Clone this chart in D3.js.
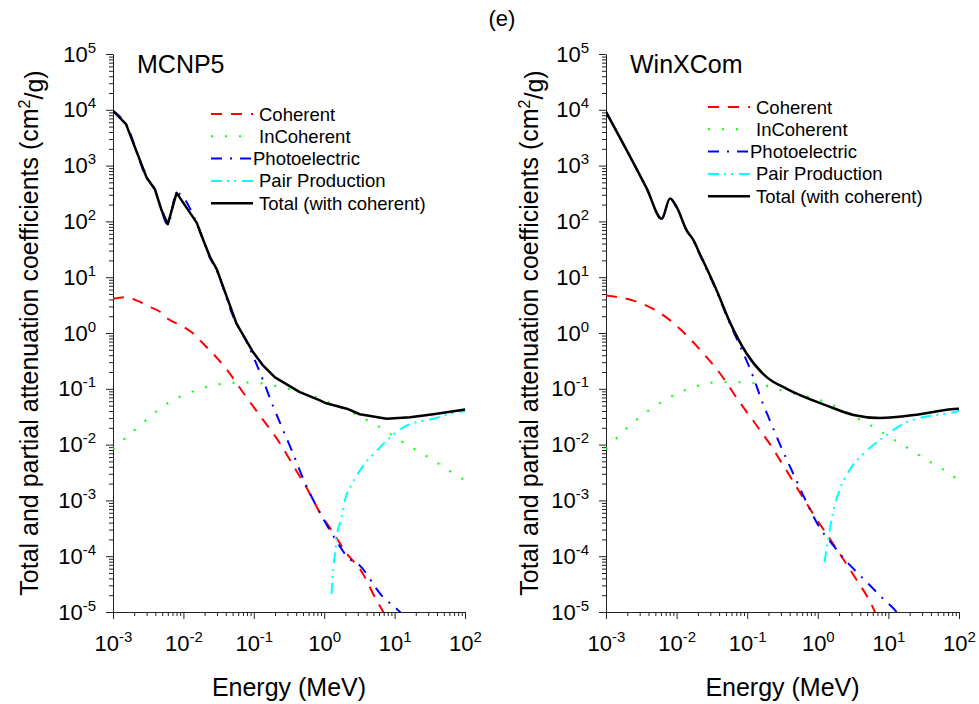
<!DOCTYPE html>
<html>
<head>
<meta charset="utf-8">
<script src="https://cdn.jsdelivr.net/npm/d3@7"></script>
<style>
  body { margin: 0; background: #fff; }
  svg { display: block; font-family: "Liberation Sans", Arial, sans-serif; }
</style>
</head>
<body>
<svg id="chart" width="979" height="704"></svg>
<script>
// tick labels (powers of ten)
const xTickExponents = [-3, -2, -1, 0, 1, 2]
const yTickExponents = [-5, -4, -3, -2, -1, 0, 1, 2, 3, 4, 5]

const seriesNames = ['Coherent', 'InCoherent', 'Photoelectric', 'Pair Production', 'Total (with coherent)']

// MCNP5 panel, [energy MeV, cm2/g]
const mcnpCoherent = [[1e-3, 4.1], [1.5e-3, 4.4], [2.2e-3, 3.8], [3.2e-3, 3.0], [4.66e-3, 2.4], [6e-3, 1.8],
    [1e-2, 1.3], [1.31e-2, 1.03], [2.14e-2, 0.556], [2.66e-2, 0.42], [3.9e-2, 0.243], [7.9e-2, 0.070],
    [0.144, 0.025], [0.236, 0.0105], [0.363, 4.2e-3], [0.56, 1.7e-3], [0.87, 6e-4], [1.35, 2.6e-4],
    [1.97, 1.24e-4], [3.6, 4.7e-5], [5.3, 1.8e-5], [6.9, 1e-5], [8, 7e-6]]
const mcnpIncoherent = [[1e-3, 8.3e-3], [2.4e-3, 0.022], [5.8e-3, 0.054], [1.38e-2, 0.090], [3.5e-2, 0.123],
    [8.8e-2, 0.13], [0.223, 0.11], [0.56, 0.081], [2.1, 0.041], [5.0, 0.024], [12.6, 0.0114],
    [31.8, 5.7e-3], [80, 2.7e-3], [100, 2.3e-3]]
const mcnpPhoto = [[1e-3, 9590], [1.53e-3, 5530], [3e-3, 605], [3.95e-3, 368], [4.9e-3, 155], [6e-3, 87],
    [8e-3, 322], [1.55e-2, 92], [1.92e-2, 45], [2.39e-2, 22], [2.97e-2, 13.3], [5e-2, 2.1], [7.9e-2, 0.70],
    [0.136, 0.14], [0.19, 0.047], [0.263, 0.0178], [0.363, 6.8e-3], [0.53, 2.1e-3], [0.82, 6.9e-4],
    [1.35, 2.3e-4], [2.3, 8.9e-5], [3.05, 7.2e-5], [6.5, 2.0e-5], [11.9, 1e-5], [14, 8e-6]]
const mcnpPair = [[1.27, 2.1e-5], [1.35, 6.3e-5], [1.42, 1.08e-4], [1.53, 2.5e-4], [1.77, 4.9e-4], [1.97, 1e-3],
    [2.45, 1.9e-3], [3.6, 4.2e-3], [5.6, 7.8e-3], [7.7, 0.0118], [14.8, 0.0218], [35.5, 0.029],
    [76, 0.038], [100, 0.040]]
const mcnpTotal = [[1e-3, 9600], [1.53e-3, 5540], [3e-3, 611], [3.95e-3, 372], [4.9e-3, 158], [6e-3, 89],
    [8e-3, 325], [1.55e-2, 94], [1.92e-2, 46], [2.39e-2, 23], [2.97e-2, 14], [5.7e-2, 1.46], [9.8e-2, 0.45],
    [0.136, 0.26], [0.2, 0.16], [0.45, 0.087], [0.87, 0.062], [1.07, 0.055], [2.1, 0.044], [3.2, 0.035],
    [7.7, 0.029], [16.6, 0.031], [35.5, 0.035], [95, 0.042], [100, 0.043]]

// WinXCom panel
const wxCoherent = [[1e-3, 4.7], [2.44e-3, 3.8], [5.2e-3, 2.5], [1.18e-2, 1.11], [2.39e-2, 0.43], [4.1e-2, 0.19],
    [7.5e-2, 0.062], [0.136, 0.022], [0.21, 0.0102], [0.33, 4.1e-3], [0.51, 1.66e-3], [0.82, 6.3e-4],
    [2.18, 9.8e-5], [3.48, 3.9e-5], [5.4, 1.6e-5], [7, 8e-6]]
const wxIncoherent = [[1e-3, 8.3e-3], [1.58e-3, 0.015], [2.44e-3, 0.025], [6.15e-3, 0.058], [1.55e-2, 0.102],
    [3.9e-2, 0.132], [9.8e-2, 0.13], [0.38, 0.087], [1.49, 0.054], [3.75, 0.029], [6.0, 0.021],
    [14.6, 0.0105], [36.7, 5.1e-3], [93, 2.4e-3], [100, 2.2e-3]]
const wxPhoto = [[1e-3, 9190], [1.96e-3, 1895], [3.77e-3, 388], [6.15e-3, 111], [8.07e-3, 255], [1e-2, 180],
    [1.39e-2, 68], [1.73e-2, 45], [2.14e-2, 25], [3.7e-2, 5.5], [5.7e-2, 1.45], [7.5e-2, 0.68],
    [0.125, 0.15], [0.16, 0.062], [0.21, 0.027], [0.29, 0.0102], [0.43, 3.4e-3], [0.66, 1.05e-3],
    [1.07, 3.2e-4], [1.57, 1.7e-4], [2.3, 9.3e-5], [3.4, 5.5e-5], [5.2, 3.2e-5], [8.5, 1.7e-5],
    [13.1, 1e-5], [15, 8e-6]]
const wxPair = [[1.24, 7.8e-5], [1.34, 1.4e-4], [1.49, 3.2e-4], [1.66, 6.5e-4], [2.06, 1.6e-3], [2.86, 3.6e-3],
    [4.4, 6.8e-3], [8.5, 0.0135], [18, 0.025], [83, 0.038], [100, 0.040]]
const wxTotal = [[1e-3, 9200], [1.96e-3, 1900], [3.77e-3, 390], [6.15e-3, 112], [8.07e-3, 257], [1e-2, 182],
    [1.39e-2, 69], [1.73e-2, 46], [2.14e-2, 26], [3.7e-2, 5.8], [5.7e-2, 1.55], [9.8e-2, 0.43],
    [0.189, 0.162], [0.363, 0.10], [1.34, 0.050], [3.2, 0.034], [7.6, 0.030], [28, 0.035], [98, 0.044],
    [100, 0.044]]

const styles = [
    { colour: '#ff0000', dash: '11,9', width: 2 },
    { colour: '#00ff00', dash: '2,12', width: 2 },
    { colour: '#0000ff', dash: '11,8,2,8', width: 2 },
    { colour: '#00ffff', dash: '11,5,2,5,2,6', width: 2 },
    { colour: '#000000', dash: null, width: 2.5 }
]

const panels = [
    { label: 'MCNP5', x0: 113, x1: 465, series: [mcnpCoherent, mcnpIncoherent, mcnpPhoto, mcnpPair, mcnpTotal],
      legendX: 211, legendY: 114, titleX: 38, linearTotal: true },
    { label: 'WinXCom', x0: 606, x1: 959, series: [wxCoherent, wxIncoherent, wxPhoto, wxPair, wxTotal],
      legendX: 708, legendY: 107, titleX: 538, linearTotal: false }
]

const plotTop = 54, plotBottom = 612
const svg = d3.select('#chart')

const pow10 = e => Math.pow(10, e)
const minorTicks = exps => {
    const out = []
    for (let i = 0; i < exps.length - 1; i++)
        for (let k = 2; k <= 9; k++) out.push(k * pow10(exps[i]))
    return out
}

const writePower = (sel, sizeBase, sizeSup) => {
    sel.each(function (d) {
        const t = d3.select(this)
        const e = Math.round(Math.log10(d))
        t.text(null).style('font-size', sizeBase + 'px').attr('fill', '#000')
        t.append('tspan').text('10')
        t.append('tspan').attr('dy', '-0.6em').style('font-size', sizeSup + 'px').text(e)
    })
}

svg.append('text')
    .attr('x', 502).attr('y', 26)
    .attr('text-anchor', 'middle')
    .style('font-size', '22px')
    .text('(e)')

panels.forEach((p, pi) => {
    const x = d3.scaleLog().domain([1e-3, 100]).range([p.x0, p.x1])
    const y = d3.scaleLog().domain([1e-5, 1e5]).range([plotBottom, plotTop])
    const g = svg.append('g')

    const clipId = 'clip' + pi
    g.append('clipPath').attr('id', clipId)
        .append('rect').attr('x', p.x0).attr('y', plotTop - 5)
        .attr('width', p.x1 - p.x0 + 2).attr('height', plotBottom - plotTop + 5)

    // minor ticks
    g.append('g')
        .attr('transform', `translate(0, ${plotBottom})`)
        .call(d3.axisBottom(x).tickValues(minorTicks(xTickExponents)).tickSize(4).tickSizeOuter(0).tickFormat(''))
        .call(a => a.select('.domain').remove())
    g.append('g')
        .attr('transform', `translate(${p.x0}, 0)`)
        .call(d3.axisLeft(y).tickValues(minorTicks(yTickExponents)).tickSize(4).tickSizeOuter(0).tickFormat(''))
        .call(a => a.select('.domain').remove())

    // major ticks with labels
    g.append('g')
        .attr('transform', `translate(0, ${plotBottom})`)
        .call(d3.axisBottom(x).tickValues(xTickExponents.map(pow10)).tickSize(7).tickSizeOuter(0).tickPadding(16))
        .call(a => writePower(a.selectAll('.tick text'), 22, 15))
    g.append('g')
        .attr('transform', `translate(${p.x0}, 0)`)
        .call(d3.axisLeft(y).tickValues(yTickExponents.map(pow10)).tickSize(7).tickSizeOuter(0).tickPadding(10))
        .call(a => writePower(a.selectAll('.tick text'), 22, 15))

    g.selectAll('.domain, .tick line').attr('stroke', '#222').attr('stroke-width', 1)

    // axis titles
    g.append('text')
        .attr('x', (p.x0 + p.x1) / 2).attr('y', 696)
        .attr('text-anchor', 'middle')
        .style('font-size', '25px')
        .text('Energy (MeV)')

    const yt = g.append('text')
        .attr('transform', `translate(${p.titleX}, ${(plotTop + plotBottom) / 2}) rotate(-90)`)
        .attr('text-anchor', 'middle')
        .style('font-size', '25px')
    yt.append('tspan').text('Total and partial attenuation coefficients (cm')
    yt.append('tspan').attr('dy', '-0.5em').style('font-size', '16px').text('2')
    yt.append('tspan').attr('dy', '0.5em').text('/g)')

    g.append('text')
        .attr('x', p.x0 + 24).attr('y', 73)
        .style('font-size', '25px')
        .text(p.label)

    // curves
    const line = curve => d3.line()
        .x(d => x(d[0]))
        .y(d => y(d[1]))
        .curve(curve)

    const plot = g.append('g').attr('clip-path', `url(#${clipId})`)
    p.series.forEach((s, i) => {
        const curve = (i === 4 && p.linearTotal) ? d3.curveLinear : d3.curveMonotoneX
        plot.append('path')
            .datum(s)
            .attr('fill', 'none')
            .attr('stroke', styles[i].colour)
            .attr('stroke-width', styles[i].width)
            .attr('stroke-dasharray', styles[i].dash)
            .attr('stroke-linejoin', 'round')
            .attr('d', line(curve))
    })

    // legend
    const legend = g.append('g')
    seriesNames.forEach((name, i) => {
        const ly = p.legendY + i * 22.3
        legend.append('line')
            .attr('x1', p.legendX).attr('x2', p.legendX + 42)
            .attr('y1', ly).attr('y2', ly)
            .attr('stroke', styles[i].colour)
            .attr('stroke-width', styles[i].width)
            .attr('stroke-dasharray', styles[i].dash)
        legend.append('text')
            .attr('x', p.legendX + (i === 2 ? 42 : 48))
            .attr('y', ly + 6.5)
            .style('font-size', '18.5px')
            .text(name)
    })
})
</script>
</body>
</html>
